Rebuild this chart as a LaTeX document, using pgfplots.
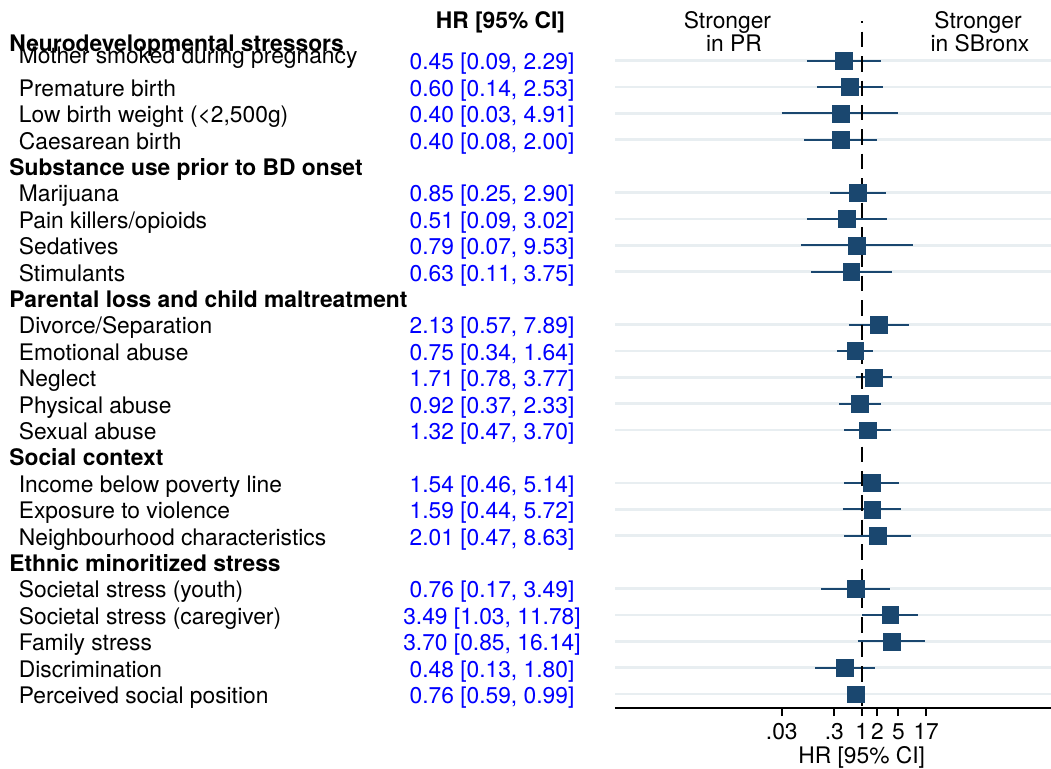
\documentclass[border=0pt]{standalone}
\usepackage{pgfplots}
\pgfplotsset{compat=1.18}
\usepackage{fontspec}
\setmainfont{TeX Gyre Heros}
\definecolor{navy}{RGB}{26,71,111}
\definecolor{gridc}{RGB}{232,238,241}
\definecolor{hrblue}{RGB}{0,0,255}
\newcommand{\ci}[3]{\addplot[navy, line width=1pt, forget plot] coordinates {(#1,#3) (#2,#3)};}
\newcommand{\itm}[3]{%
  \node[anchor=base west, inner sep=0pt] at ({rel axis cs:-1.3681,0}|-{axis cs:1,#1}) {#2};
  \node[anchor=base, inner sep=0pt, text=hrblue] at ({rel axis cs:-0.2821,0}|-{axis cs:1,#1}) {#3};}
\newcommand{\hdr}[2]{%
  \node[anchor=base west, inner sep=0pt, font=\fontsize{11.4}{13.5}\selectfont\bfseries] at ({rel axis cs:-1.3899,0}|-{axis cs:1,#1}) {#2};}
\begin{document}
\begin{tikzpicture}[font=\fontsize{11.4}{13.5}\selectfont]
\useasboundingbox (0,0) rectangle (525.5pt,-384pt);
\begin{axis}[
  at={(307.5pt,-354pt)}, anchor=south west,
  scale only axis, width=218pt, height=354pt,
  xmode=log, xmin=1.979e-5, xmax=4067,
  ymin=-1.2917, ymax=25.526, y dir=reverse,
  axis lines*=left,
  y axis line style={draw=none},
  x axis line style={line width=1pt, black},
  xtick={0.03,0.3,1,2,5,17},
  xticklabels={.03,.3,1,2,5,17},
  xminorticks=false,
  xtick style={line width=1pt, black},
  tick align=outside,
  major tick length=4pt,
  xticklabel style={anchor=base, inner sep=0pt, yshift=-11.85pt},
  ytick={1,2,3,4,6,7,8,9,11,12,13,14,15,17,18,19,21,22,23,24,25},
  yticklabels={},
  ytick style={draw=none},
  ymajorgrids=true, xmajorgrids=false,
  grid style={gridc, line width=1.3pt},
  clip=false,
]
% confidence intervals
\ci{0.09}{2.29}{1}
\ci{0.14}{2.53}{2}
\ci{0.03}{4.91}{3}
\ci{0.08}{2.00}{4}
\ci{0.25}{2.90}{6}
\ci{0.09}{3.02}{7}
\ci{0.07}{9.53}{8}
\ci{0.11}{3.75}{9}
\ci{0.57}{7.89}{11}
\ci{0.34}{1.64}{12}
\ci{0.78}{3.77}{13}
\ci{0.37}{2.33}{14}
\ci{0.47}{3.70}{15}
\ci{0.46}{5.14}{17}
\ci{0.44}{5.72}{18}
\ci{0.47}{8.63}{19}
\ci{0.17}{3.49}{21}
\ci{1.03}{11.78}{22}
\ci{0.85}{16.14}{23}
\ci{0.13}{1.80}{24}
\ci{0.59}{0.99}{25}
% reference line at 1
\addplot[black, line width=1pt, dash pattern=on 7.75pt off 4.45pt, dash phase=6.85pt] coordinates {(1,-0.496) (1,25.526)};
% hazard ratios
\addplot[only marks, mark=square*, mark size=4.2pt, mark options={navy, line width=0.2pt}] coordinates {
(0.45,1) (0.60,2) (0.40,3) (0.40,4)
(0.85,6) (0.51,7) (0.79,8) (0.63,9)
(2.13,11) (0.75,12) (1.71,13) (0.92,14) (1.32,15)
(1.54,17) (1.59,18) (2.01,19)
(0.76,21) (3.49,22) (3.70,23) (0.48,24) (0.76,25)};
% column headers
\node[anchor=base, inner sep=0pt, font=\fontsize{11.4}{13.5}\selectfont\bfseries] at ({rel axis cs:-0.2626,0}|-{axis cs:1,-0.220}) {HR [95\% CI]};
\node[anchor=base, inner sep=0pt] at ({rel axis cs:0.2580,0}|-{axis cs:1,-0.220}) {Stronger};
\node[anchor=base, inner sep=0pt] at ({rel axis cs:0.2729,0}|-{axis cs:1,0.667}) {in PR};
\node[anchor=base, inner sep=0pt] at ({rel axis cs:0.8326,0}|-{axis cs:1,-0.220}) {Stronger};
\node[anchor=base, inner sep=0pt] at ({rel axis cs:0.8372,0}|-{axis cs:1,0.667}) {in SBronx};
\node[anchor=base, inner sep=0pt] at (axis cs:1,27.61) {HR [95\% CI]};
% rows
\hdr{0.640}{Neurodevelopmental stressors}
\node[anchor=base west, inner sep=0pt] at ({rel axis cs:-1.3681,0}|-{axis cs:1,1.095}) {Mother smoked during pregnancy};
\node[anchor=base, inner sep=0pt, text=hrblue] at ({rel axis cs:-0.2821,0}|-{axis cs:1,1.352}) {0.45 [0.09, 2.29]};
\itm{2.352}{Premature birth}{0.60 [0.14, 2.53]}
\itm{3.352}{Low birth weight (<2,500g)}{0.40 [0.03, 4.91]}
\itm{4.352}{Caesarean birth}{0.40 [0.08, 2.00]}
\hdr{5.352}{Substance use prior to BD onset}
\itm{6.352}{Marijuana}{0.85 [0.25, 2.90]}
\itm{7.352}{Pain killers/opioids}{0.51 [0.09, 3.02]}
\itm{8.352}{Sedatives}{0.79 [0.07, 9.53]}
\itm{9.352}{Stimulants}{0.63 [0.11, 3.75]}
\hdr{10.352}{Parental loss and child maltreatment}
\itm{11.352}{Divorce/Separation}{2.13 [0.57, 7.89]}
\itm{12.352}{Emotional abuse}{0.75 [0.34, 1.64]}
\itm{13.352}{Neglect}{1.71 [0.78, 3.77]}
\itm{14.352}{Physical abuse}{0.92 [0.37, 2.33]}
\itm{15.352}{Sexual abuse}{1.32 [0.47, 3.70]}
\hdr{16.352}{Social context}
\itm{17.352}{Income below poverty line}{1.54 [0.46, 5.14]}
\itm{18.352}{Exposure to violence}{1.59 [0.44, 5.72]}
\itm{19.352}{Neighbourhood characteristics}{2.01 [0.47, 8.63]}
\hdr{20.352}{Ethnic minoritized stress}
\itm{21.352}{Societal stress (youth)}{0.76 [0.17, 3.49]}
\itm{22.352}{Societal stress (caregiver)}{3.49 [1.03, 11.78]}
\itm{23.352}{Family stress}{3.70 [0.85, 16.14]}
\itm{24.352}{Discrimination}{0.48 [0.13, 1.80]}
\itm{25.352}{Perceived social position}{0.76 [0.59, 0.99]}
\end{axis}
\end{tikzpicture}
\end{document}
